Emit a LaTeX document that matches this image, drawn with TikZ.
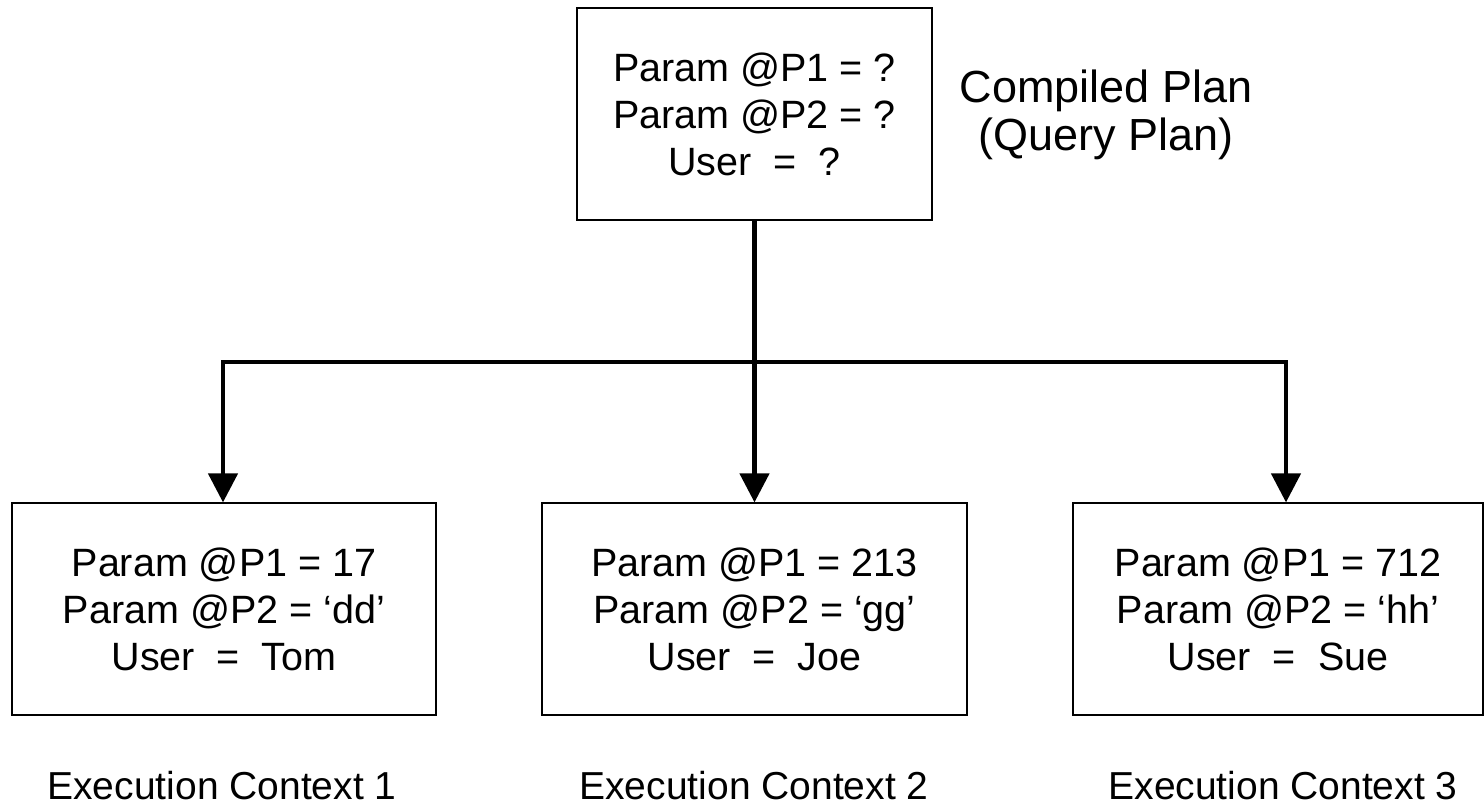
\documentclass[tikz,border=0pt]{standalone}
\usepackage{fontspec}
\setmainfont{Liberation Sans}
\usetikzlibrary{arrows.meta}
\begin{document}
\begin{tikzpicture}[x=1pt,y=-1pt,
  box/.style={draw=black,line width=1.2pt,rectangle,minimum height=212pt,inner sep=0pt,align=center,
    font=\fontsize{39.5}{47}\selectfont},
  lbl/.style={inner sep=0pt,align=center,font=\fontsize{39}{47}\selectfont},
  conn/.style={line width=4.5pt,-{Triangle[length=29pt,width=29pt]}}]
\useasboundingbox (0,0) rectangle (1484,807);
\node[box,minimum width=355pt] (top) at (754.5,114) {Param @P1 = ?\\Param @P2 = ?\\User\ \ =\ \ ?};
\node[box,minimum width=424pt] (b1) at (224,609) {Param @P1 = 17\\Param @P2 = ‘dd’\\User\ \ =\ \ Tom};
\node[box,minimum width=425pt] (b2) at (754.5,609) {Param @P1 = 213\\Param @P2 = ‘gg’\\User\ \ =\ \ Joe};
\node[box,minimum width=410pt] (b3) at (1278,609) {Param @P1 = 712\\Param @P2 = ‘hh’\\User\ \ =\ \ Sue};
\node[lbl,font=\fontsize{45}{48}\selectfont] (cp) at (1106,115) {Compiled Plan\\(Query Plan)};
\node[lbl,anchor=base] (e1) at (222,799) {Execution Context 1};
\node[lbl,anchor=base] (e2) at (754,799) {Execution Context 2};
\node[lbl,anchor=base] (e3) at (1283,799) {Execution Context 3};
\coordinate (j) at (754.5,362);
\draw[conn] (top.south) -- (b2.north);
\draw[conn] (j) -| ([xshift=-1pt]b1.north);
\draw[conn] (j) -| ([xshift=8pt]b3.north);
\end{tikzpicture}
\end{document}
